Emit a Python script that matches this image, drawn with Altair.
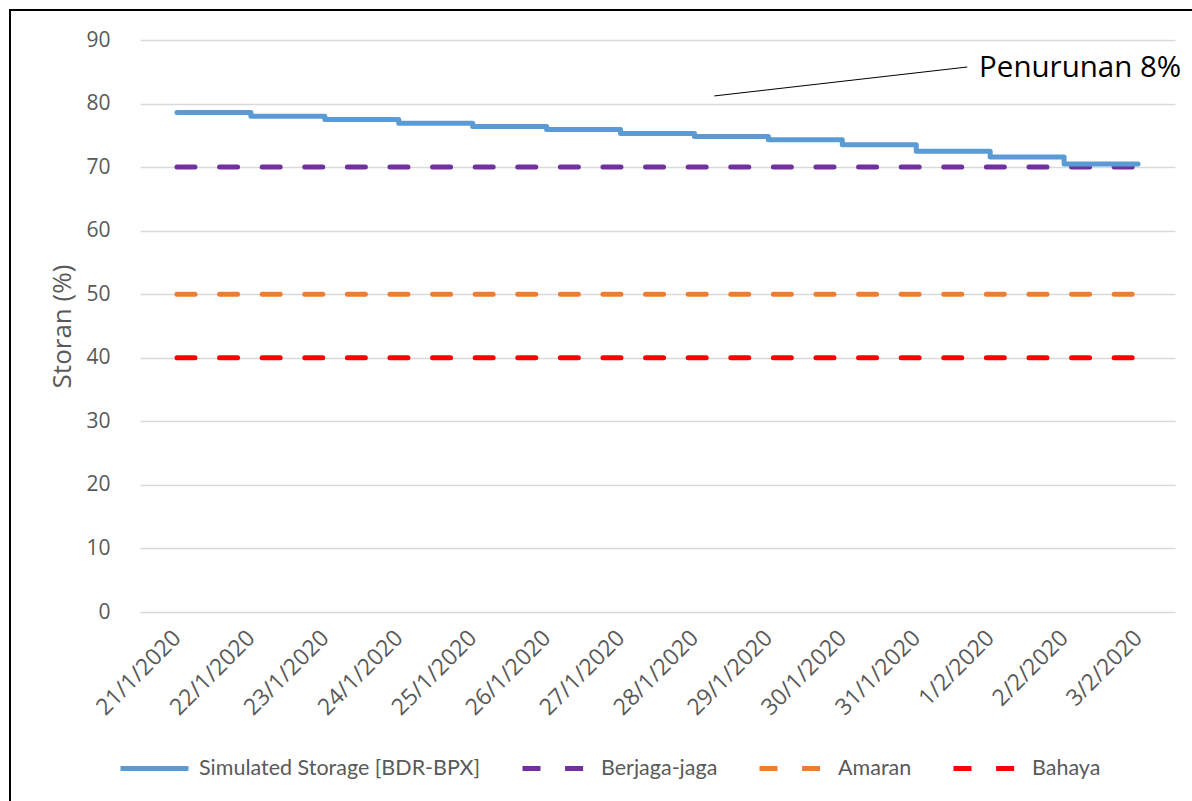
import altair as alt
import pandas as pd

# Daily dates on the category axis
dates = ["21/1/2020", "22/1/2020", "23/1/2020", "24/1/2020", "25/1/2020",
         "26/1/2020", "27/1/2020", "28/1/2020", "29/1/2020", "30/1/2020",
         "31/1/2020", "1/2/2020", "2/2/2020", "3/2/2020"]

# Simulated storage (%) for each day
storage = [78.6, 78.0, 77.5, 76.9, 76.4, 75.9, 75.3, 74.8, 74.3, 73.5,
           72.5, 71.6, 70.5, 70.5]

# Alert thresholds (%)
series_names = ["Simulated Storage [BDR-BPX]", "Berjaga-jaga", "Amaran", "Bahaya"]
thresholds = {"Berjaga-jaga": 70, "Amaran": 50, "Bahaya": 40}
series_colors = ["#5B9BD5", "#7030A0", "#ED7D31", "#FF0000"]
series_dashes = [[1, 0], [18, 24.6], [18, 24.6], [18, 24.6]]

# Annotation of the overall decline
note_text = "Penurunan 8%"
note_line = {"x": 7.27, "y": 81.2, "x2": 10.69, "y2": 85.75}
note_pos = {"x": 10.85, "y": 85.6}

rows = []
for i, v in enumerate(storage):
    rows.append({"idx": i, "series": series_names[0], "value": v})
for name, level in thresholds.items():
    for i in range(len(dates)):
        rows.append({"idx": i, "series": name, "value": level})
df = pd.DataFrame(rows)

axis_font = "Open Sans"
grey = "#595959"

x_enc = alt.X(
    "idx:Q",
    scale=alt.Scale(domain=[-0.5, len(dates) - 0.5], nice=False, zero=False),
    axis=alt.Axis(
        values=list(range(len(dates))),
        labelExpr="%s[datum.value]" % str(dates),
        labelAngle=-45, labelAlign="right", labelBaseline="middle",
        labelOverlap=False, labelPadding=22, labelFontSize=23,
        labelFont=axis_font, labelColor=grey,
        grid=False, domain=False, ticks=False, tickSize=0, title=None,
    ),
)
y_enc = alt.Y(
    "value:Q",
    scale=alt.Scale(domain=[0, 90], nice=False),
    axis=alt.Axis(
        values=list(range(0, 91, 10)),
        title="Storan (%)", titleFont=axis_font, titleFontSize=26,
        titleFontWeight="normal", titleColor=grey, titlePadding=10,
        labelFont=axis_font, labelFontSize=21, labelColor=grey, labelPadding=30,
        grid=True, gridColor="#D9D9D9", gridWidth=1.3,
        domain=False, ticks=False, tickSize=0,
    ),
)
color_enc = alt.Color(
    "series:N",
    scale=alt.Scale(domain=series_names, range=series_colors),
    legend=alt.Legend(title=None),
)
dash_enc = alt.StrokeDash(
    "series:N",
    scale=alt.Scale(domain=series_names, range=series_dashes),
    legend=alt.Legend(title=None),
)

base = alt.Chart(df)

threshold_lines = base.transform_filter(
    alt.datum.series != series_names[0]
).mark_line(strokeWidth=5, strokeCap="round").encode(
    x=x_enc, y=y_enc, color=color_enc, strokeDash=dash_enc, detail="series:N"
)

storage_line = base.transform_filter(
    alt.datum.series == series_names[0]
).mark_line(strokeWidth=5, strokeCap="round", strokeJoin="round",
            interpolate="step-after").encode(
    x=x_enc, y=y_enc, color=color_enc, strokeDash=dash_enc
)

note_df = pd.DataFrame([note_line])
leader = alt.Chart(note_df).mark_rule(color="black", strokeWidth=1).encode(
    x="x:Q", y="y:Q", x2="x2:Q", y2="y2:Q"
)
label = alt.Chart(pd.DataFrame([{**note_pos, "t": note_text}])).mark_text(
    align="left", baseline="middle", font="Open Sans", fontSize=29.5, color="black"
).encode(x="x:Q", y="y:Q", text="t:N")

# Frame around the figure (left and top edges)
frame_left = alt.Chart(note_df).mark_rule(color="black", strokeWidth=2).encode(
    x=alt.value(-130), y=alt.value(-30), y2=alt.value(800)
)
frame_top = alt.Chart(note_df).mark_rule(color="black", strokeWidth=2).encode(
    x=alt.value(-131), x2=alt.value(1100), y=alt.value(-30)
)

chart = alt.layer(
    threshold_lines, storage_line, leader, label, frame_left, frame_top
).properties(
    width=1035, height=572,
    autosize=alt.AutoSizeParams(type="none"),
    padding={"left": 140, "top": 40, "right": 17, "bottom": 189},
    background="white",
).configure_view(
    stroke=None
).configure_legend(
    orient="none", legendX=-22, legendY=692, direction="horizontal",
    symbolType="stroke", symbolSize=4624, symbolStrokeWidth=5,
    labelFont="Lato", labelFontSize=21.5, labelColor=grey, labelLimit=400,
    labelOffset=8, columnPadding=31, padding=0,
)

chart.save("out.html", embed_options={"renderer": "svg", "actions": False})
